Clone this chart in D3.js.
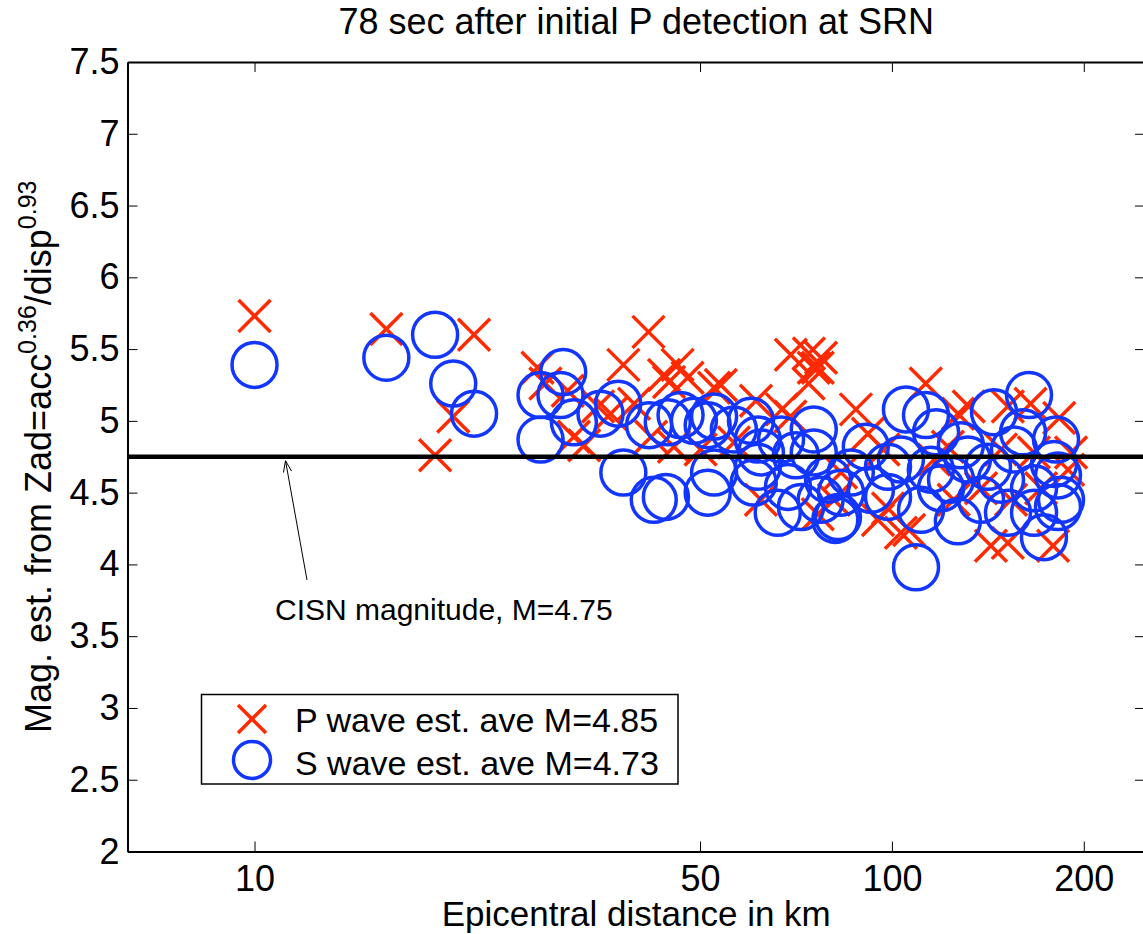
<!DOCTYPE html>
<html>
<head>
<meta charset="utf-8">
<script src="https://cdn.jsdelivr.net/npm/d3@7"></script>
<style>
  body { margin: 0; background: #fff; }
  text { font-family: "Liberation Sans", Arial, Helvetica, sans-serif; fill: #000; }
</style>
</head>
<body>
<div id="chart"></div>
<script>
// P wave estimates: [epicentral distance km, magnitude]
var pWave = [
  [10.0,5.73],[16.1,5.64],[22.1,5.60],[20.5,5.03],[19.2,4.76],
  [27.8,5.37],[28.6,5.26],[31.0,5.21],[31.7,4.89],[32.9,4.83],
  [37.9,5.39],[36.2,5.05],[41.5,5.62],[43.9,5.32],[46.1,5.39],[44.7,5.27],[47.8,5.30],
  [52.6,5.23],[53.9,5.25],[61.2,5.14],[67.2,5.08],[69.4,5.46],[74.1,5.47],[76.5,5.37],[74.0,5.26],[69.3,5.03],
  [62.3,4.45],[56.5,4.85],[41.9,4.89],[45.5,4.82],[50.1,4.80],[39.4,5.12],[34.6,5.10],
  [77.4,5.44],[75.4,5.37],[87.8,5.08],[91.7,4.91],[113,5.26],[127,5.05],[132,5.10],[152,5.10],[165,5.12],[183,5.02],[191,4.78],[189,4.66],
  [95.1,4.31],[103.3,4.22],[106.4,4.24],[143,4.13],[152,4.15],[179,4.13],[98.6,4.39],[125,4.45],[138,4.53],
  [81.1,4.45],[76.5,4.35],[116.4,4.73],[122.4,4.82],[148.3,4.80],[167,4.78],[171.4,4.53],[153.8,4.45],[97,4.80],[83.2,4.64]
];

// S wave estimates
var sWave = [
  [10.0,5.39],[16.1,5.44],[19.2,5.60],[20.5,5.26],[22.1,5.05],
  [30.5,5.34],[28.1,5.18],[30.2,5.18],[31.7,4.99],[28.1,4.87],[34.9,5.05],[37.2,5.12],[37.9,4.64],
  [42.3,4.45],[44.2,4.47],[41.6,4.97],[44.5,4.99],[46.6,5.04],[48.9,5.00],[51.4,4.97],[52.6,5.03],
  [51.4,4.50],[52.6,4.64],[56.5,4.94],[60.1,5.00],[61.6,4.87],[62.3,4.78],[61.6,4.68],[60.7,4.57],
  [66.2,4.36],[68.7,4.54],[75.4,4.94],[70.7,4.76],[67.0,4.87],
  [91.0,4.82],[105.2,5.08],[113.1,5.04],[117.3,4.92],[144.6,5.06],[164.1,5.18],[160.6,4.92],[109.1,3.98],
  [126.9,4.30],[173.2,4.19],[182.2,4.40],[182.2,4.62],[179.6,4.70],[82.3,4.33],[83.2,4.50],[98.6,4.47],
  [98.6,4.68],[111.1,4.38],[119.4,4.53],[131.6,4.73],[138,4.45],[152.1,4.36],[167.1,4.36],[167.1,4.53],
  [155.4,4.80],[141.5,4.68],[75.4,4.78],[79.4,4.59],[77.3,4.45],[72.0,4.40],[86.2,4.64],[103.3,4.73],
  [128.3,4.83],[148.3,4.59],[184.2,4.45],[180.9,4.87],[115.1,4.66],[123.8,4.59],[92.7,4.52],[81.5,4.31]
];

var xTickValues = [10, 50, 100, 200];
var yTickValues = [2, 2.5, 3, 3.5, 4, 4.5, 5, 5.5, 6, 6.5, 7, 7.5];
var cisnMag = 4.75;
var legendLabels = ['P wave est. ave M=4.85', 'S wave est. ave M=4.73'];

var width = 1143, height = 934;
var plotL = 127.5, plotR = 1145, plotT = 62, plotB = 851.5;
var red = '#ff2a00', blue = '#1236ff';

var svg = d3.select('#chart')
  .append('svg')
  .attr('width', width)
  .attr('height', height);

var x = d3.scaleLog().domain([6.32, 249.5]).range([plotL, plotR]);
var y = d3.scaleLinear().domain([2, 7.5]).range([plotB, plotT]);

function styleAxis(g) {
  g.select('.domain').attr('stroke', '#000').attr('stroke-width', 2);
  g.selectAll('.tick line').attr('stroke', '#000').attr('stroke-width', 1);
  g.selectAll('.tick text').style('font-size', '36px').attr('fill', '#000');
}

// bottom axis
svg.append('g')
  .attr('transform', 'translate(0,' + plotB + ')')
  .call(d3.axisBottom(x).tickValues(xTickValues).tickFormat(d3.format('d'))
    .tickSizeInner(-10).tickSizeOuter(0).tickPadding(14))
  .call(styleAxis);

// top axis
svg.append('g')
  .attr('transform', 'translate(0,' + plotT + ')')
  .call(d3.axisTop(x).tickValues(xTickValues).tickFormat('')
    .tickSizeInner(-10).tickSizeOuter(0))
  .call(styleAxis);

// left axis
svg.append('g')
  .attr('transform', 'translate(' + plotL + ',0)')
  .call(d3.axisLeft(y).tickValues(yTickValues).tickFormat(d3.format(''))
    .tickSizeInner(-10).tickSizeOuter(0).tickPadding(8))
  .call(styleAxis);

// right axis
svg.append('g')
  .attr('transform', 'translate(' + plotR + ',0)')
  .call(d3.axisRight(y).tickValues(yTickValues).tickFormat('')
    .tickSizeInner(-10).tickSizeOuter(0))
  .call(styleAxis);

// markers
function xPath(h) {
  return 'M' + (-h) + ',' + (-h) + 'L' + h + ',' + h + 'M' + (-h) + ',' + h + 'L' + h + ',' + (-h);
}

svg.append('g')
  .selectAll('path')
  .data(pWave)
  .enter()
  .append('path')
  .attr('transform', function(d) { return 'translate(' + x(d[0]) + ',' + y(d[1]) + ')'; })
  .attr('d', xPath(16))
  .attr('fill', 'none')
  .attr('stroke', red)
  .attr('stroke-width', 3.5);

svg.append('g')
  .selectAll('circle')
  .data(sWave)
  .enter()
  .append('circle')
  .attr('cx', function(d) { return x(d[0]); })
  .attr('cy', function(d) { return y(d[1]); })
  .attr('r', 22.5)
  .attr('fill', 'none')
  .attr('stroke', blue)
  .attr('stroke-width', 3.5);

// CISN magnitude line
svg.append('line')
  .attr('x1', plotL).attr('x2', plotR)
  .attr('y1', y(cisnMag)).attr('y2', y(cisnMag))
  .attr('stroke', '#000')
  .attr('stroke-width', 4.5);

// annotation arrow
var ax0 = 307, ay0 = 580, ax1 = 285.5, ay1 = y(cisnMag) + 4;
svg.append('line')
  .attr('x1', ax0).attr('y1', ay0).attr('x2', ax1).attr('y2', ay1)
  .attr('stroke', '#000').attr('stroke-width', 1);
var ang = Math.atan2(ay1 - ay0, ax1 - ax0);
[0.35, -0.35].forEach(function(o) {
  svg.append('line')
    .attr('x1', ax1).attr('y1', ay1)
    .attr('x2', ax1 - 12 * Math.cos(ang + o))
    .attr('y2', ay1 - 12 * Math.sin(ang + o))
    .attr('stroke', '#000').attr('stroke-width', 1);
});

svg.append('text')
  .attr('x', 275).attr('y', 620)
  .style('font-size', '30px')
  .text('CISN magnitude, M=' + cisnMag);

// legend
var lg = svg.append('g');
lg.append('rect')
  .attr('x', 201.5).attr('y', 694.5)
  .attr('width', 476.5).attr('height', 89.5)
  .attr('fill', '#fff').attr('stroke', '#000').attr('stroke-width', 1.5);
lg.append('path')
  .attr('transform', 'translate(252,719)')
  .attr('d', xPath(14))
  .attr('stroke', red).attr('stroke-width', 3.5).attr('fill', 'none');
lg.append('circle')
  .attr('cx', 252).attr('cy', 760).attr('r', 18.5)
  .attr('stroke', blue).attr('stroke-width', 3.5).attr('fill', 'none');
lg.append('text').attr('x', 295).attr('y', 731.5).style('font-size', '34px').text(legendLabels[0]);
lg.append('text').attr('x', 295).attr('y', 775).style('font-size', '34px').text(legendLabels[1]);

// title and axis labels
svg.append('text')
  .attr('x', (plotL + plotR) / 2).attr('y', 33.5)
  .attr('text-anchor', 'middle')
  .style('font-size', '36px')
  .text('78 sec after initial P detection at SRN');

svg.append('text')
  .attr('x', (plotL + plotR) / 2).attr('y', 926)
  .attr('text-anchor', 'middle')
  .style('font-size', '35px')
  .text('Epicentral distance in km');

var yl = svg.append('text')
  .attr('transform', 'translate(51,' + ((plotT + plotB) / 2) + ') rotate(-90)')
  .attr('text-anchor', 'middle')
  .style('font-size', '36px');
yl.append('tspan').text('Mag. est. from Zad=acc');
yl.append('tspan').attr('dy', -15).style('font-size', '25px').text('0.36');
yl.append('tspan').attr('dy', 15).text('/disp');
yl.append('tspan').attr('dy', -15).style('font-size', '25px').text('0.93');
</script>
</body>
</html>
